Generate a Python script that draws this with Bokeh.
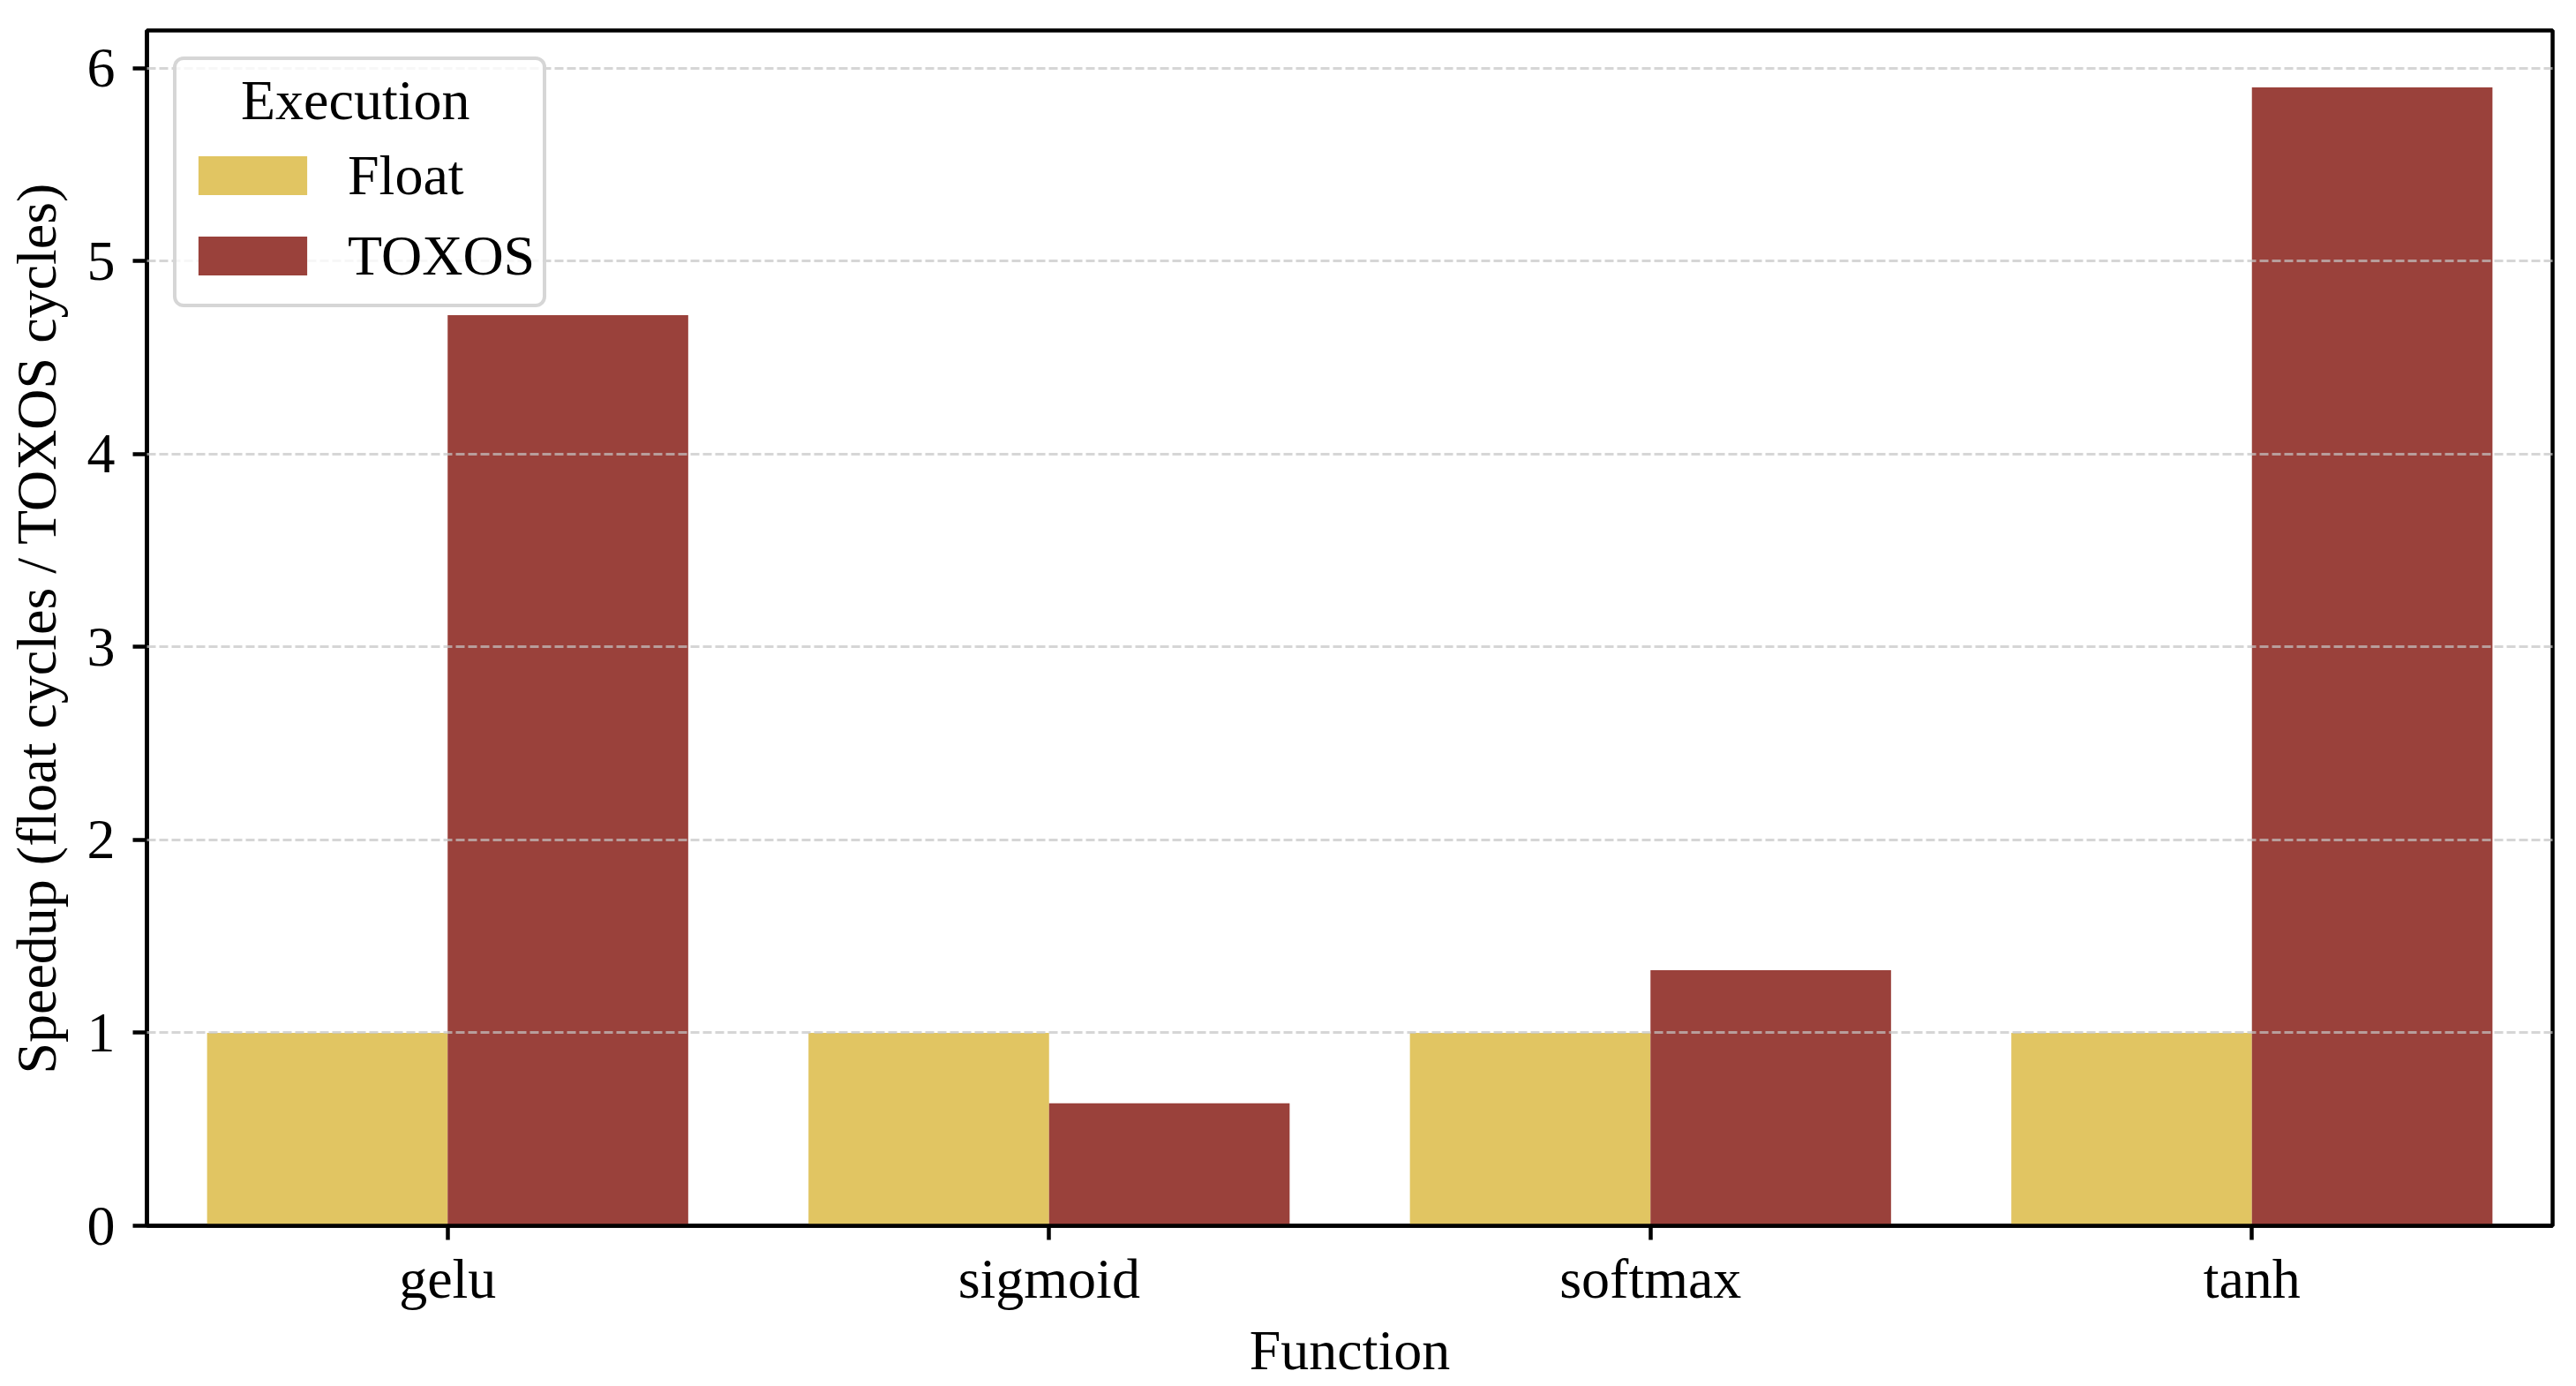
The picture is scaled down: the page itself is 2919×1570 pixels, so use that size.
from bokeh.plotting import figure
from bokeh.models import Range1d, FixedTicker, ColumnDataSource
from bokeh.transform import dodge
from bokeh.embed import file_html
from bokeh.resources import INLINE

# ---- data ----
categories = ["gelu", "sigmoid", "softmax", "tanh"]
series_names = ["Float", "TOXOS"]
float_speedup = [1.0, 1.0, 1.0, 1.0]
toxos_speedup = [4.72, 0.635, 1.325, 5.90]
y_ticks = [0, 1, 2, 3, 4, 5, 6]
x_label = "Function"
y_label = "Speedup (float cycles / TOXOS cycles)"
legend_title = "Execution"

# ---- style ----
FONT = "Liberation Serif"
FS = "64px"
C_FLOAT = "#E1C562"
C_TOXOS = "#9A413B"

src = ColumnDataSource(dict(cat=categories, Float=float_speedup, TOXOS=toxos_speedup))

p = figure(x_range=categories, y_range=Range1d(0, 6.195),
           width=2919, height=1570, output_backend="svg", toolbar_location=None,
           min_border_left=166, min_border_right=27, min_border_top=34, min_border_bottom=182)
p.x_range.range_padding = 0

p.vbar(x=dodge("cat", -0.2, range=p.x_range), top=series_names[0], width=0.4, source=src,
       fill_color=C_FLOAT, line_color=None, legend_label=series_names[0])
p.vbar(x=dodge("cat", 0.2, range=p.x_range), top=series_names[1], width=0.4, source=src,
       fill_color=C_TOXOS, line_color=None, legend_label=series_names[1])

# frame
p.outline_line_color = "black"
p.outline_line_width = 4.5
p.background_fill_color = "white"
p.border_fill_color = "white"

# grid (drawn above the bars, below the legend)
p.xgrid.visible = False
p.ygrid.ticker = FixedTicker(ticks=y_ticks)
p.ygrid.grid_line_color = "#c4c4c4"
p.ygrid.grid_line_alpha = 0.7
p.ygrid.grid_line_width = 3
p.ygrid.grid_line_dash = "10 4"
p.ygrid.level = "guide"

# axes
for ax in (p.xaxis[0], p.yaxis[0]):
    ax.axis_line_color = "black"
    ax.axis_line_width = 4.5
    ax.major_tick_line_width = 4.5
    ax.major_tick_out = 16
    ax.major_tick_in = 0
    ax.minor_tick_line_color = None
    ax.major_label_text_font = FONT
    ax.major_label_text_font_size = FS
    ax.major_label_text_color = "black"
    ax.axis_label_text_font = FONT
    ax.axis_label_text_font_size = FS
    ax.axis_label_text_font_style = "normal"
    ax.axis_label_text_color = "black"

p.yaxis.ticker = FixedTicker(ticks=y_ticks)
p.yaxis.major_label_standoff = 20
p.yaxis.axis_label = y_label
p.yaxis.axis_label_standoff = 19
p.xaxis.major_label_standoff = 8
p.xaxis.axis_label = x_label
p.xaxis.axis_label_standoff = 7

# legend
lg = p.legend[0]
lg.location = "top_left"
lg.margin = 30
lg.padding = 9
# non-breaking spaces push the title towards the centre of the box
lg.title = "\u00a0\u00a0\u00a0\u00a0" + legend_title
lg.title_text_font = FONT
lg.title_text_font_size = FS
lg.title_text_font_style = "normal"
lg.title_text_color = "black"
lg.title_standoff = 2
lg.label_text_font = FONT
lg.label_text_font_size = FS
lg.label_text_color = "black"
lg.glyph_width = 154
lg.glyph_height = 55
lg.label_height = 91
lg.label_standoff = 31
lg.spacing = 0
lg.border_line_color = "#cccccc"
lg.border_line_alpha = 0.8
lg.border_line_width = 4
lg.background_fill_color = "white"
lg.background_fill_alpha = 0.8
try:
    lg.border_radius = 12
except Exception:
    pass

open("out.html", "w").write(file_html(p, INLINE))
